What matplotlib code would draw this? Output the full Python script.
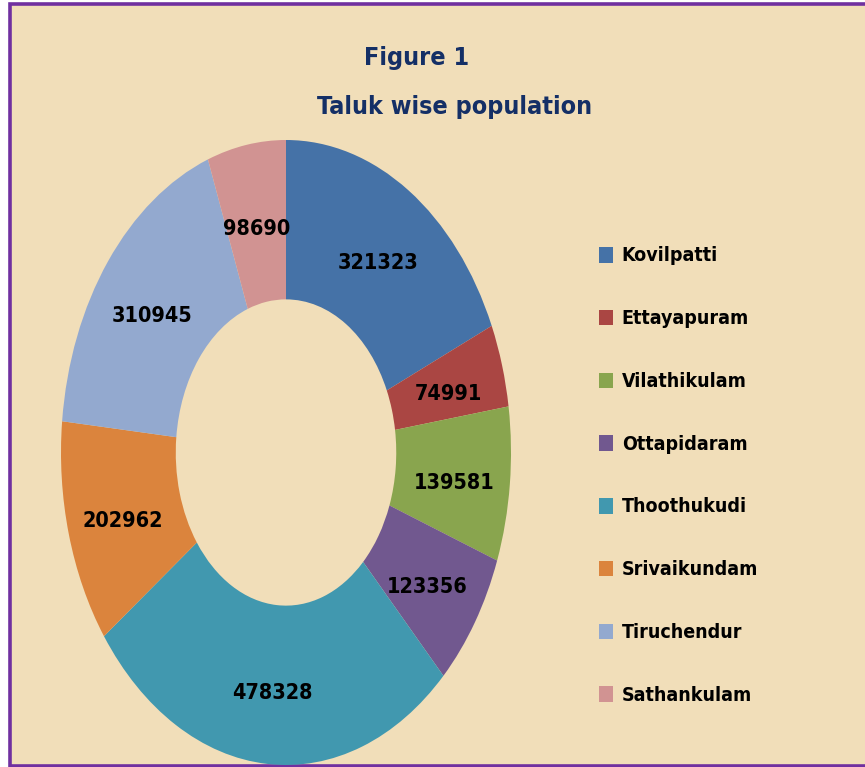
import matplotlib
matplotlib.use("Agg")
import matplotlib.pyplot as plt
from matplotlib.patches import Rectangle
import numpy as np

categories = ["Kovilpatti", "Ettayapuram", "Vilathikulam", "Ottapidaram",
              "Thoothukudi", "Srivaikundam", "Tiruchendur", "Sathankulam"]
values = [321323, 74991, 139581, 123356, 478328, 202962, 310945, 98690]
colors = ["#4572A7", "#AA4643", "#89A54E", "#71588F",
          "#4198AF", "#DB843D", "#93A9CF", "#D19392"]
title_lines = ["Figure 1", "Taluk wise population"]

FONT = ["Liberation Sans Narrow", "DejaVu Sans"]
plt.rcParams["font.family"] = FONT

W, H = 865, 767
fig = plt.figure(figsize=(W / 100, H / 100), dpi=100, facecolor="white")

# parchment panel with purple border
fig.patches.append(Rectangle((9.5 / W, 1.5 / H), 1.0, (765 - 1.5 - 1.5) / H + 0.0,
                             transform=fig.transFigure, facecolor="#F1DEB9",
                             edgecolor="#7030A0", linewidth=2.6, zorder=-5))

# donut axes (elliptical, stretched vertically like the reference)
cx, cy, rx, ry = 286, 452.5, 225, 312.5
ax = fig.add_axes([(cx - rx) / W, (H - cy - ry) / H, 2 * rx / W, 2 * ry / H])
ax.set_facecolor("none")
ax.set_zorder(2)
wedges, texts = ax.pie(values, colors=colors, startangle=90, counterclock=False,
                       radius=1.0, wedgeprops=dict(width=0.51, linewidth=0))
ax.set_aspect("auto")
ax.set_xlim(-1, 1)
ax.set_ylim(-1, 1)
ax.axis("off")

total = float(sum(values))
start = 90.0
for v in values:
    ang = start - 360.0 * v / total / 2
    start -= 360.0 * v / total
    r = 0.75
    ax.annotate(f"{v}", (r * np.cos(np.radians(ang)), r * np.sin(np.radians(ang))),
                xytext=(0, -5), textcoords="offset points",
                ha="center", va="center", fontsize=15.5, fontweight="bold",
                color="black", fontstretch="condensed")

# title
fig.text(417 / W, 1 - 58 / H, title_lines[0], ha="center", va="center",
         fontsize=18, fontweight="bold", color="#142F66", fontstretch="condensed")
fig.text(455 / W, 1 - 107 / H, title_lines[1], ha="center", va="center",
         fontsize=18, fontweight="bold", color="#142F66", fontstretch="condensed")

# legend
leg = fig.legend(wedges, categories, loc="upper left",
                 bbox_to_anchor=(581 / W, 1 - 229 / H),
                 frameon=False, handlelength=0.75, handleheight=0.85,
                 handletextpad=0.45, labelspacing=2.25,
                 prop=dict(family=FONT, size=14, weight="bold", stretch="condensed"))

fig.savefig("out.png", dpi=100, facecolor="white")
